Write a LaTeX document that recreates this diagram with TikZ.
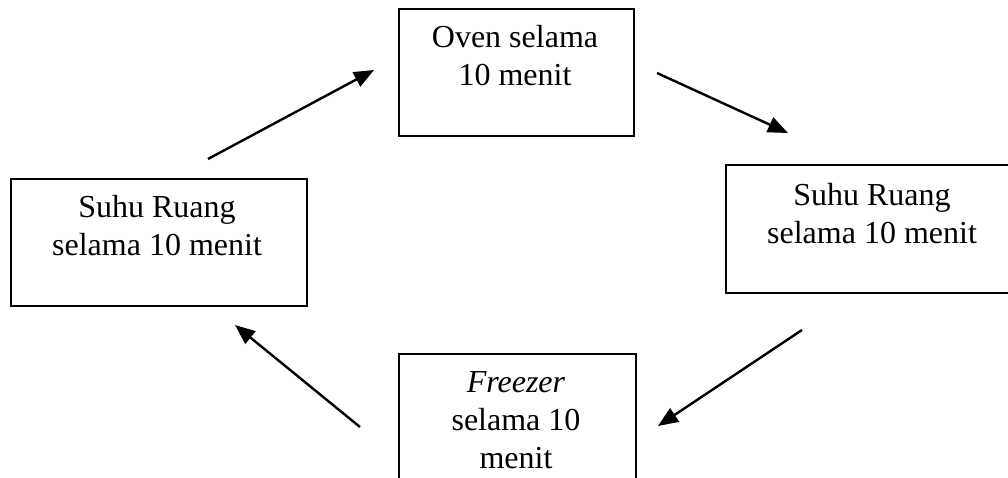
\documentclass[tikz,border=0pt]{standalone}
\usepackage{fontspec}
\setmainfont{Liberation Serif}
\usetikzlibrary{arrows.meta}
\begin{document}
\begin{tikzpicture}[x=1pt,y=-1pt,
  box/.style={draw=black,line width=1.8pt,rectangle,inner sep=0pt,anchor=north west},
  lbl/.style={align=center,inner sep=0pt,anchor=north,font=\fontsize{32}{38}\selectfont},
  flow/.style={line width=2.4pt,-{Triangle[length=20pt,width=16pt]}}]
\clip (0,0) rectangle (1008,477);
\fill[white] (0,0) rectangle (1008,477);
% boxes
\node[box,minimum width=235pt,minimum height=127pt] (oven) at (398,8) {};
\node[box,minimum width=296pt,minimum height=128pt] (ruangR) at (725,164) {};
\node[box,minimum width=296pt,minimum height=127pt] (ruangL) at (10,178) {};
\node[box,minimum width=237pt,minimum height=140pt] (freezer) at (398,353) {};
% labels
\node[lbl] (tOven) at (515,25) {Oven selama\\10 menit};
\node[lbl] (tRuangR) at (872,183) {Suhu Ruang\\selama 10 menit};
\node[lbl] (tRuangL) at (157,195) {Suhu Ruang\\selama 10 menit};
\node[lbl] (tFreezer) at (516,371) {\textit{Freezer}\\selama 10\\menit};
% arrow ends
\coordinate (a1s) at (208,159); \coordinate (a1e) at (374,70);
\coordinate (a2s) at (657,73);  \coordinate (a2e) at (788,133);
\coordinate (a3s) at (802,330); \coordinate (a3e) at (658,426);
\coordinate (a4s) at (360,427); \coordinate (a4e) at (235,325);
\draw[flow] (a1s) -- (a1e);
\draw[flow] (a2s) -- (a2e);
\draw[flow] (a3s) -- (a3e);
\draw[flow] (a4s) -- (a4e);
\end{tikzpicture}
\end{document}
